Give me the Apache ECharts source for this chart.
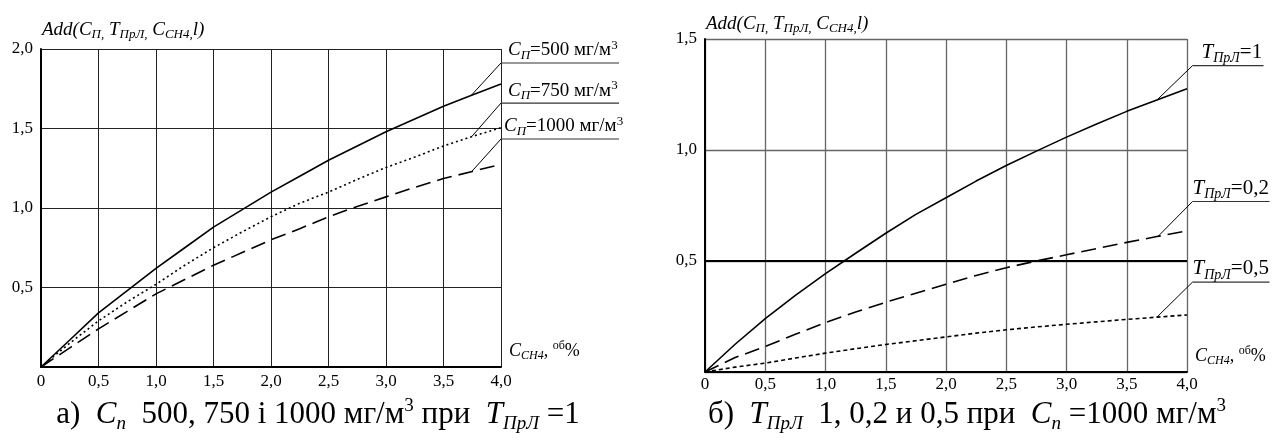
<!DOCTYPE html>
<html><head><meta charset="utf-8">
<script src="https://cdn.jsdelivr.net/npm/echarts@6/dist/echarts.min.js"></script>
<style>html,body{margin:0;padding:0;background:#fff}#c{width:1283px;height:443px}</style>
</head><body><div id="c"></div>
<script>
// ---- data ----
const xValues = [0,0.25,0.5,0.75,1.0,1.25,1.5,1.75,2.0,2.25,2.5,2.75,3.0,3.25,3.5,3.75,4.0];
// left chart (а): C_П = 500, 750, 1000 mg/m3 at T_ПрЛ = 1
const cp500  = [0,0.17,0.34,0.48,0.62,0.75,0.88,0.99,1.10,1.20,1.30,1.39,1.48,1.56,1.64,1.71,1.78];
const cp750  = [0,0.15,0.29,0.41,0.52,0.64,0.75,0.85,0.945,1.03,1.10,1.18,1.255,1.32,1.39,1.45,1.505];
const cp1000 = [0,0.12,0.24,0.35,0.46,0.55,0.64,0.72,0.80,0.87,0.945,1.01,1.07,1.13,1.185,1.23,1.275];
// right chart (б): T_ПрЛ = 1, 0.2, 0.5 at C_П = 1000 mg/m3
const t1  = [0,0.125,0.24,0.345,0.443,0.535,0.625,0.71,0.785,0.86,0.93,0.995,1.058,1.117,1.174,1.225,1.276];
const t02 = [0,0.065,0.115,0.17,0.223,0.27,0.314,0.355,0.395,0.435,0.47,0.50,0.528,0.556,0.584,0.61,0.636];
const t05 = [0,0.022,0.04,0.063,0.085,0.105,0.124,0.141,0.158,0.175,0.19,0.203,0.215,0.226,0.237,0.247,0.257];
const xTickLabels = ['0','0,5','1,0','1,5','2,0','2,5','3,0','3,5','4,0'];
const yTickLabelsLeft = ['','0,5','1,0','1,5','2,0'];
const yTickLabelsRight = ['','0,5','1,0','1,5'];

const FF = '"Liberation Serif","Times New Roman",serif';
const chart = echarts.init(document.getElementById('c'));
const pairs = ys => xValues.map((x,i)=>[x, ys[i]]);
function interp(ys, x){
  for (let i=1;i<xValues.length;i++){
    if (x <= xValues[i]){ const t=(x-xValues[i-1])/(xValues[i]-xValues[i-1]); return ys[i-1]+t*(ys[i]-ys[i-1]); }
  }
  return ys[ys.length-1];
}
function richSet(fs, sub){
  return {
    n:{fontSize:fs, fontFamily:FF, lineHeight:fs+4, color:'#000'},
    i:{fontSize:fs, fontFamily:FF, fontStyle:'italic', lineHeight:fs+4, color:'#000'},
    s:{fontSize:sub, fontFamily:FF, fontStyle:'italic', lineHeight:sub, verticalAlign:'top', padding:[Math.round(fs*0.55),0,0,0], color:'#000'},
    p:{fontSize:sub, fontFamily:FF, lineHeight:sub, verticalAlign:'top', color:'#000'}
  };
}
function xAxisCfg(gi){
  return {type:'value', gridIndex:gi, min:0, max:4, interval:0.5,
    axisLine:{show:true, onZero:false, lineStyle:{color:'#000', width:2}},
    axisTick:{show:false},
    axisLabel:{color:'#000', fontFamily:FF, fontSize:17, margin: gi===0?6:4, formatter:(v)=>xTickLabels[Math.round(v/0.5)]},
    splitLine:{show:true, lineStyle:{color: gi===0?'#222':'#666', width: gi===0?1:1.3}}};
}
function yAxisCfg(gi, max, labels){
  return {type:'value', gridIndex:gi, min:0, max:max, interval:0.5,
    axisLine:{show:true, onZero:false, lineStyle:{color:'#000', width:2}},
    axisTick:{show:false},
    axisLabel:{color:'#000', fontFamily:FF, fontSize:17, margin:8, formatter:(v)=>labels[Math.round(v/0.5)]},
    splitLine:{show:true, lineStyle:{color: gi===0?'#222':'#666', width: gi===0?1:1.3}}};
}
function line(gi, ys, type, extra){
  return Object.assign({type:'line', xAxisIndex:gi, yAxisIndex:gi, data:pairs(ys), symbol:'none', silent:true,
    lineStyle:{color:'#000', width:1.6, type:type}}, extra||{});
}
chart.setOption({
  animation:false,
  backgroundColor:'#fff',
  grid:[
    {left:41, top:49, width:460, height:318, outerBoundsMode:'none'},
    {left:705, top:39, width:482, height:333, outerBoundsMode:'none'}
  ],
  xAxis:[xAxisCfg(0), xAxisCfg(1)],
  yAxis:[yAxisCfg(0,2,yTickLabelsLeft), yAxisCfg(1,1.5,yTickLabelsRight)],
  series:[
    line(0, cp500, 'solid'),
    line(0, cp750, [2,3]),
    line(0, cp1000, [15,7]),
    line(1, t1, 'solid', {markLine:{silent:true, symbol:'none', label:{show:false},
       lineStyle:{color:'#000', width:2, type:'solid'}, data:[{yAxis:0.5}]}}),
    line(1, t02, [15,7]),
    line(1, t05, [4,3])
  ]
});

// ---- annotations positioned through the axes ----
const g = [];
const px = (gi, x, y) => chart.convertToPixel({gridIndex:gi}, [x, y]);
function callout(gi, ys, xOn, xAnchor, yAnchor, len, text, rich, dx){
  const p1 = px(gi, xOn, interp(ys, xOn));
  const p2 = px(gi, xAnchor, yAnchor);
  g.push({type:'line', silent:true, shape:{x1:p1[0], y1:p1[1], x2:p2[0], y2:p2[1]}, style:{stroke:'#000', lineWidth:1}});
  g.push({type:'line', silent:true, shape:{x1:p2[0], y1:p2[1], x2:p2[0]+len, y2:p2[1]}, style:{stroke:'#333', lineWidth:1.2}});
  g.push({type:'text', silent:true, x:p2[0]+dx, y:p2[1]-1, style:{text:text, rich:rich, verticalAlign:'bottom', align:'left'}});
}
const rL = richSet(19, 13);
const rR = richSet(21, 14);
callout(0, cp500, 3.74, 4.0, 1.912, 118, '{i|C}{s|П}{n|=500 мг/м}{p|3}', rL, 7);
callout(0, cp750, 3.745, 4.0, 1.66, 118, '{i|C}{s|П}{n|=750 мг/м}{p|3}', rL, 7);
callout(0, cp1000, 3.745, 4.0, 1.434, 118, '{i|C}{s|П}{n|=1000 мг/м}{p|3}', rL, 3);
callout(1, t1, 3.75, 4.046, 1.38, 71, '{i|T}{s|ПрЛ}{n|=1}', rR, 9);
callout(1, t02, 3.76, 4.046, 0.768, 77, '{i|T}{s|ПрЛ}{n|=0,2}', rR, 0);
callout(1, t05, 3.75, 4.046, 0.405, 77, '{i|T}{s|ПрЛ}{n|=0,5}', rR, 0);

// axis names
const rA = richSet(19, 13);
[[0,2],[1,1.5]].forEach(([gi,ymax])=>{
  const top = px(gi, 0, ymax);
  g.push({type:'text', silent:true, x:top[0]+1, y:top[1]-(gi===0?8:4), style:{
    text:'{i|Add(C}{s|П,}{i| T}{s|ПрЛ,}{i| C}{s|CH4,}{i|l)}', rich:rA, verticalAlign:'bottom', align:'left'}});
  const end = px(gi, 4, 0);
  g.push({type:'text', silent:true, x:end[0]+8, y:end[1]-5, style:{
    text:'{i|C}{s|CH4}{n|, }{p|об}{n|%}', rich:richSet(18,12), verticalAlign:'bottom', align:'left'}});
});

// captions
const rC = richSet(31, 19);
g.push({type:'text', silent:true, x:318, y:432, style:{
  text:'{n|а)  }{i|C}{s|п}{n|  500, 750 і 1000 мг/м}{p|3}{n| при  }{i|T}{s|ПрЛ}{n| =1}', rich:rC, verticalAlign:'bottom', align:'center'}});
g.push({type:'text', silent:true, x:967, y:432, style:{
  text:'{n|б)  }{i|T}{s|ПрЛ}{n|  1, 0,2 и 0,5 при  }{i|C}{s|п}{n| =1000 мг/м}{p|3}', rich:rC, verticalAlign:'bottom', align:'center'}});

chart.setOption({graphic:g});
</script>
</body></html>
